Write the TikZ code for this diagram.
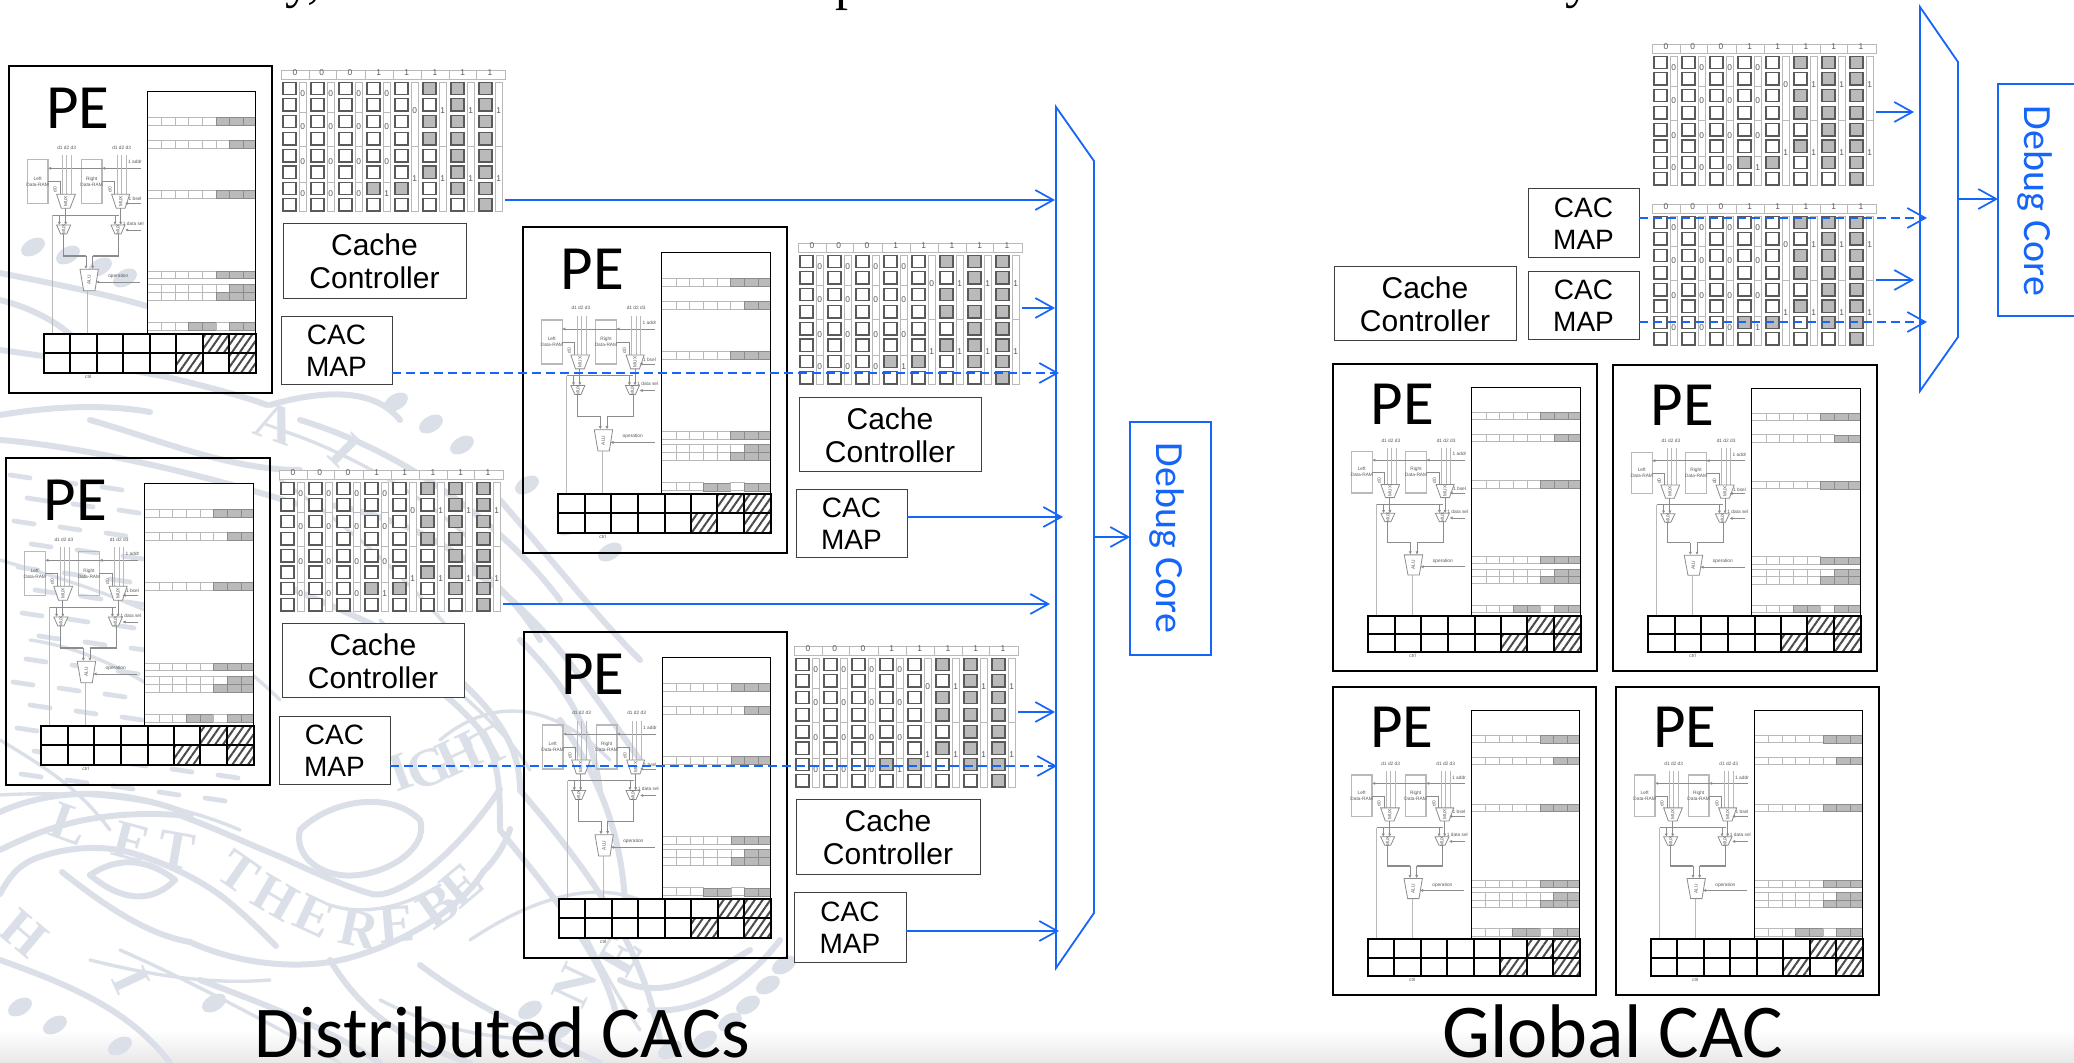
\documentclass[tikz,border=0pt]{standalone}
\usepackage{fontspec}
\setmainfont{Liberation Sans}
\newfontfamily\cali{Carlito}
\newfontfamily\tms{Liberation Serif}
\usetikzlibrary{arrows.meta,patterns.meta,calc}
\definecolor{blu}{RGB}{21,101,249}
\definecolor{wmc}{RGB}{219,224,232}
\definecolor{lgl}{RGB}{185,185,185}
\definecolor{dgl}{RGB}{90,90,90}
\definecolor{grf}{RGB}{186,186,186}
\newcommand{\tn}{\fontsize{2.4}{3}\selectfont}
\newcommand{\arrdg}{\fontsize{4.2}{5}\selectfont}
\tikzset{
  x=0.5pt,y=-0.5pt,
  frame/.style={draw=black,line width=1.25pt,fill=none,inner sep=0pt,outer sep=0pt},
  lblbox/.style={draw=black!75,line width=0.5pt,fill=white,inner sep=0pt,outer sep=0pt,align=center,font=\fontsize{15}{16.5}\selectfont},
  cacbox/.style={lblbox,font=\fontsize{14}{16}\selectfont},
  hold/.style={inner sep=0pt,outer sep=0pt},
  dbgbox/.style={draw=blu,line width=0.75pt,fill=white,inner sep=0pt,outer sep=0pt},
  dbgtxt/.style={text=blu,rotate=-90,font=\cali\fontsize{20}{22}\selectfont,inner sep=0pt},
  bus/.style={draw=blu,line width=0.9pt,line join=miter},
  conn/.style={draw=blu,line width=0.85pt,-{Straight Barb[length=9pt,width=10pt,line width=0.85pt]}},
  connd/.style={conn,dash pattern=on 4.5pt off 2.5pt},
  pelbl/.style={font=\cali\fontsize{31.5}{32}\selectfont,inner sep=0pt},
  ttl/.style={font=\cali\fontsize{36.5}{37}\selectfont,inner sep=0pt,anchor=base},
  cut/.style={font=\tms\fontsize{26}{26}\selectfont,inner sep=0pt,anchor=base},
  wm/.style={draw=wmc,line width=3pt,line cap=round},
  wmt/.style={draw=wmc,line width=1.7pt,line cap=round},
  wml/.style={text=wmc,font=\tms\bfseries\fontsize{27}{27}\selectfont,inner sep=0pt},
  wire/.style={draw=black!45,line width=0.4pt},
  lwire/.style={draw=lgl,line width=0.5pt},
  tiparrow/.style={wire,-{Latex[length=1.6pt,width=1.6pt]}},
  tlbl/.style={font=\tn,text=black!65,inner sep=0pt},
  rowc/.style={draw=lgl,line width=0.4pt,fill=white},
  rowg/.style={draw=black!45,line width=0.3pt,fill=grf},
  tabc/.style={draw=black,line width=1pt},
  sq/.style={draw=dgl,line width=0.55pt,fill=white},
  sqg/.style={draw=dgl,line width=0.55pt,fill=grf},
  thin/.style={draw=lgl,line width=0.4pt,fill=white},
  adg/.style={font=\arrdg,text=black!65,inner sep=0pt},
  hatched/.style={pattern={Lines[angle=55,distance=3.2pt,line width=1pt]},pattern color=black!70},
  pearch/.pic={
    \draw[draw=black,line width=0.45pt,fill=white] (442,124) rectangle (767,970);
    \foreach \ya/\yb/\gs in {202/226/648,272/295/689,421/445/648,663/686/648,703/727/689,727/750/648}{
      \foreach \xa/\xb in {442/484,484/525,525/566,566/607,607/648,648/689,689/729,729/767}{
        \pgfmathparse{\xa>=\gs?1:0}
        \ifnum\pgfmathresult=1
          \draw[rowg] (\xa,\ya) rectangle (\xb,\yb);
        \else
          \draw[rowc] (\xa,\ya) rectangle (\xb,\yb);
        \fi
      }
    }
    \foreach \xa/\xb/\c in {442/484/rowc,484/525/rowc,525/566/rowc,566/607/rowg,607/648/rowg,648/689/rowc,689/729/rowg,729/767/rowg}{
      \draw[\c] (\xa,818) rectangle (\xb,842);
    }
    \draw[draw=black,line width=0.45pt] (442,124) rectangle (767,970);
    \draw[lwire,line width=0.6pt] (82,460) -- (82,328) -- (144,328) -- (144,460) -- cycle;
    \draw[lwire,line width=0.6pt] (244,460) -- (244,328) -- (306,328) -- (306,460) -- cycle;
    \node[tlbl,align=center] (lr) at (113,394) {Left\\Data-RAM};
    \node[tlbl,align=center] (rr) at (275,394) {Right\\Data-RAM};
    \draw[tiparrow] (422,355) -- (144,355);
    \draw[tiparrow] (422,355) -- (306,355);
    \node[tlbl] (lb1) at (405,336) {1 addr};
    \foreach \x in {188,200,215,352,365,378}{\draw[lwire,line width=0.35pt] (\x,315) -- (\x,433);}
    \node[tlbl] (d1) at (200,292) {d1 d2 d3};
    \node[tlbl] (d2) at (365,292) {d1 d2 d3};
    \draw[wire] (144,395) -- (180,395) -- (180,433);
    \draw[wire] (306,395) -- (344,395) -- (344,433);
    \node[tlbl,rotate=90] (d0a) at (165,420) {d0};
    \node[tlbl,rotate=90] (d0b) at (330,420) {d0};
    \draw[wire,fill=white] (170,433) -- (226,433) -- (210,475) -- (184,475) -- cycle;
    \draw[wire,fill=white] (335,433) -- (389,433) -- (375,475) -- (349,475) -- cycle;
    \node[tlbl,rotate=90] (m1) at (197,454) {MUX};
    \node[tlbl,rotate=90] (m2) at (362,454) {MUX};
    \draw[tiparrow] (422,460) -- (375,460);
    \node[tlbl] (lb2) at (405,447) {1 bsel};
    \draw[wire,line width=0.6pt] (158,496) -- (357,496);
    \draw[lwire] (158,496) -- (158,852);
    \draw[wire] (197,475) -- (197,496);
    \draw[wire] (362,475) -- (362,496);
    \draw[tiparrow] (178,496) -- (178,525);
    \draw[tiparrow] (197,496) -- (197,525);
    \draw[tiparrow] (345,496) -- (345,525);
    \draw[tiparrow] (362,496) -- (362,525);
    \draw[wire,fill=white] (170,525) -- (212,525) -- (200,552) -- (182,552) -- cycle;
    \draw[wire,fill=white] (333,525) -- (375,525) -- (363,552) -- (345,552) -- cycle;
    \node[tlbl,rotate=90] (m3) at (191,539) {MUX};
    \node[tlbl,rotate=90] (m4) at (354,539) {MUX};
    \draw[tiparrow] (422,540) -- (375,540);
    \node[tlbl] (lb3) at (400,520) {1 data sel};
    \draw[wire,line width=0.55pt] (190,552) -- (190,618) -- (258,618);
    \draw[wire,line width=0.55pt] (356,552) -- (356,618) -- (278,618);
    \draw[tiparrow] (258,618) -- (258,657);
    \draw[tiparrow] (278,618) -- (278,657);
    \draw[wire,fill=white] (240,658) -- (295,658) -- (285,722) -- (251,722) -- cycle;
    \node[tlbl,rotate=90] (alu) at (267,690) {ALU};
    \draw[lwire] (264,722) -- (264,852);
    \draw[tiparrow] (420,696) -- (288,696);
    \node[tlbl] (lb4) at (355,678) {operation};
    \fill[white] (131,852) rectangle (767,968);
    \foreach \xa/\xb/\ya/\yb in {608/688/852/910,688/767/852/910,529/608/910/968,688/767/910/968}{
      \fill[hatched] (\xa,\ya) rectangle (\xb,\yb);
    }
    \draw[tabc] (131,852) rectangle (767,968);
    \draw[tabc] (131,910) -- (767,910);
    \foreach \x in {211,290,370,450,529,608,688}{\draw[tabc] (\x,852) -- (\x,968);}
    \node[tlbl] (ctl) at (265,979) {ctrl};
    \node[pelbl] (pet) at (234,176) {PE};
  },
  cachearr/.pic={
    \draw[rowc] (0,0) rectangle (672,27);
    \foreach \x in {85,167,253,337,421,505,587}{\draw[lgl,line width=0.4pt] (\x,0) -- (\x,27);}
    \foreach \x/\d in {42/0,122/0,207/0,293/1,377/1,462/1,545/1,627/1}{\node[adg] (h\x) at (\x,9) {\d};}
    \foreach \c in {0,...,7}{
      \foreach \y in {37,86,136,188,239,288,337,386}{
        \draw[sq] ({6+84*\c},\y) rectangle ({45+84*\c},{\y+37});
      }
    }
    \foreach \c/\y in {3/337,4/337,5/37,5/136,5/188,5/288,6/37,6/86,6/136,6/188,6/239,6/288,6/337,7/37,7/86,7/136,7/188,7/239,7/288,7/337,7/386}{
      \draw[sqg] ({6+84*\c},\y) rectangle ({45+84*\c},{\y+37});
    }
    \foreach \c in {0,...,3}{
      \foreach \ya/\yb in {37/127,127/229,229/337,337/423}{
        \draw[thin] ({55+84*\c},\ya) rectangle ({75+84*\c},\yb);
      }
    }
    \foreach \c in {4,...,7}{
      \foreach \ya/\yb in {37/229,229/423}{
        \draw[thin] ({55+84*\c},\ya) rectangle ({75+84*\c},\yb);
      }
    }
    \foreach \c/\y/\d in {0/72/0,0/170/0,0/275/0,0/370/0,1/72/0,1/170/0,1/275/0,1/370/0,2/72/0,2/170/0,2/275/0,2/370/0,3/72/0,3/170/0,3/275/0,3/370/1,4/123/0,4/325/1,5/123/1,5/325/1,6/123/1,6/325/1,7/123/1,7/325/1}{
      \node[adg] at ({65+84*\c},\y) {\d};
    }
  }
}
\newcommand{\bx}[7]{%
  \pgfmathsetmacro\mycx{(#3+#5)/2}\pgfmathsetmacro\mycy{(#4+#6)/2}%
  \pgfmathsetmacro\myw{(#5-#3)*0.5}\pgfmathsetmacro\myh{(#6-#4)*0.5}%
  \node[#2,minimum width=\myw pt,minimum height=\myh pt] (#1) at (\mycx,\mycy) {#7};}
\newcommand{\pe}[5]{%
  \bx{#1}{frame}{#2}{#3}{#4}{#5}{}%
  \pgfmathsetmacro\sx{(#4-#2)/263/3}\pgfmathsetmacro\sy{(#5-#3)/327/3}%
  \pgfmathsetmacro\ox{#2-27*\sx}\pgfmathsetmacro\oy{#3-48*\sy}%
  \pic[shift={(\ox,\oy)},xscale=\sx,yscale=\sy] (#1in) {pearch};}
\newcommand{\arr}[3]{%
  \bx{#1}{hold}{#2}{#3}{#2+224}{#3+141}{}%
  \pic[shift={(#2,#3)},xscale=0.3333,yscale=0.3333] (#1in) {cachearr};}
\begin{document}
\begin{tikzpicture}
\useasboundingbox (0,0) rectangle (2074,1063);
\clip (0,0) rectangle (2074,1063);
\fill[white] (0,0) rectangle (2074,1063);
\fill[top color=white,bottom color=black!9] (0,1030) rectangle (2074,1063);
% ---- watermark: thick strokes
\foreach \a/\b/\c/\d/\e/\f/\g/\h in {
 % upper left streaks
 0/415/60/405/110/405/150/412,
 0/440/70/445/190/470/300/505,
 90/420/160/440/230/470/300/470,
 0/273/60/285/110/295/150/307,
 0/350/60/358/120/368/167/377,
 167/377/200/385/240/395/267/405,
 0/300/40/310/70/330/85/350,
 % upper right arc of seal
 300/420/400/450/500/520/560/600,
 330/505/420/520/500/570/540/640,
 270/405/340/385/380/395/400/420,
 % upper ribbon edges / banner
 179/815/220/830/250/845/276/855,
 276/855/310/870/340/885/372/894,
 372/894/400/900/460/850/500/789,
 62/872/110/910/150/935/190/942,
 190/942/240/965/300/970/345/959,
 345/959/400/945/460/910/483/872,
 483/872/495/860/505/845/510/829,
 % left loop
 0/894/10/875/20/865/34/859,
 34/859/70/845/110/845/138/855,
 138/855/170/865/200/880/224/898,
 224/898/245/915/260/930/276/946,
 0/812/60/785/130/790/191/815,
 0/850/50/825/100/810/179/815,
 90/875/120/855/150/860/175/880,
 175/880/150/905/120/900/90/875,
 % mid loop round array C / cache C
 295/590/340/610/420/640/470/690,
 290/650/360/640/430/670/480/730,
 470/690/500/720/520/750/520/790,
 480/730/500/760/500/790/500/830,
 % oval
 300/830/330/800/390/790/420/820,
 420/820/430/850/380/880/340/875,
 340/875/310/870/295/850/300/830,
 % right big curves
 500/830/540/880/600/950/615/1010,
 520/790/570/850/640/930/660/1040,
 330/960/360/1010/400/1040/470/1063,
 420/965/480/1010/530/1030/600/1063,
 200/980/280/1010/330/1030/380/1063,
 0/960/70/985/130/1010/170/1063,
 % strokes behind PE B/D and to the right
 470/570/540/610/590/690/640/760,
 520/640/560/680/590/720/600/790,
 500/500/560/570/600/620/640/660,
 620/980/660/1000/700/980/750/950,
 650/1010/700/1015/750/980/780/940,
 560/720/600/780/620/830/625/900}{
  \draw[wm] (\a,\b) .. controls (\c,\d) and (\e,\f) .. (\g,\h);
}
% ---- watermark: thin strokes
\foreach \a/\b/\c/\d/\e/\f/\g/\h in {
 0/560/100/590/200/620/280/700,
 30/640/100/650/170/690/250/760,
 280/480/340/520/400/570/450/630,
 120/950/200/985/300/1040/340/1063,
 0/740/50/770/80/790/110/830,
 440/740/500/690/560/710/610/760,
 470/940/530/900/590/880/640/900,
 380/620/440/680/500/720/530/770,
 0/795/90/790/170/800/240/830,
 330/905/360/915/400/910/440/885,
 90/960/150/975/210/985/270/980,
 280/430/330/445/420/490/470/540,
 570/900/590/950/620/1000/640/1030,
 380/1000/440/1030/490/1040/560/1040}{
  \draw[wmt] (\a,\b) .. controls (\c,\d) and (\e,\f) .. (\g,\h);
}
% feather dashes on the left
\foreach \i in {0,...,13}{
  \foreach \j in {0,...,4}{
    \pgfmathsetmacro\dx{10+46*\j+mod(\i*17,30)}
    \pgfmathsetmacro\dy{475+23*\i+6*\j}
    \draw[wmc,line width=2.4pt,line cap=round] (\dx,\dy) -- ++(20,3);
  }
}
\foreach \x/\y in {396/402,431/424,462/445,527/485,569/526,610/552,20/1007,55/1025,120/1046,214/1003,33/247,68/255,100/267,125/278,784/965,768/985,748/1005,730/1022,705/1040,670/1050,530/1010,560/1030}{
  \fill[wmc,rotate around={30:(\x,\y)}] (\x,\y) ellipse (13 and 8);
}
\foreach \x/\y/\r/\t in {276/423/-20/A,345/450/-45/I,24/933/-40/H,131/981/-65/I,
  69/824/-20/L,131/842/-15/E,176/850/-10/T,238/872/-35/T,276/898/-30/H,314/916/-25/E,359/929/-12/R,397/924/5/E,438/907/35/B,462/885/40/E,
  400/772/20/I,428/768/22/G,459/755/25/H,490/746/28/T,
  575/985/65/N,620/955/60/E}{
  \node[wml,rotate=\r] at (\x,\y) {\t};
}
% ---- clipped text at top edge
\node[cut] (tc1) at (303,-2) {y,};
\node[cut] (tc2) at (848,0) {p};
\node[cut] (tc3) at (1578,-2) {y};
% ---- distributed side
\pe{peA}{9}{66}{272}{393}
\pe{peB}{523}{227}{787}{553}
\pe{peC}{6}{458}{270}{785}
\pe{peD}{524}{632}{787}{958}
\arr{arA}{281}{70}
\arr{arB}{798}{243}
\arr{arC}{279}{470}
\arr{arD}{794}{646}
\bx{ccA}{lblbox}{283}{224}{466}{299}{Cache\\Controller}
\bx{cmA}{cacbox}{281}{317}{392}{385}{CAC\\MAP}
\bx{ccB}{lblbox}{799}{398}{981}{472}{Cache\\Controller}
\bx{cmB}{cacbox}{796}{490}{907}{558}{CAC\\MAP}
\bx{ccC}{lblbox}{282}{624}{464}{698}{Cache\\Controller}
\bx{cmC}{cacbox}{279}{717}{390}{785}{CAC\\MAP}
\bx{ccD}{lblbox}{796}{800}{980}{875}{Cache\\Controller}
\bx{cmD}{cacbox}{794}{893}{906}{962}{CAC\\MAP}
\draw[bus] (1094,161) -- (1094,913) -- (1056,968) -- (1056,107) -- cycle;
\draw[draw=blu,line width=1.25pt] (1056,107) -- (1056,968);
\bx{dbL}{dbgbox}{1130}{422}{1211}{655}{}
\node[dbgtxt] (dbLt) at (1167,538) {Debug Core};
\coordinate (t1) at (1055,200);
\coordinate (t2) at (1055,308);
\coordinate (t3) at (1059,373);
\coordinate (t4) at (1063,517);
\coordinate (t5) at (1050,604);
\coordinate (t6) at (1055,712);
\coordinate (t7) at (1057,766);
\coordinate (t8) at (1059,931);
\coordinate (tout) at (1094,537);
\draw[conn] (arA.east |- t1) -- (t1);
\draw[conn] (arB.east |- t2) -- (t2);
\draw[connd] (cmA.east |- t3) -- (t3);
\draw[conn] (cmB.east |- t4) -- (t4);
\draw[conn] (arC.east |- t5) -- (t5);
\draw[conn] (arD.east |- t6) -- (t6);
\draw[connd] (cmC.east |- t7) -- (t7);
\draw[conn] (cmD.east |- t8) -- (t8);
\draw[conn] (tout) -- (dbL.west |- tout);
% ---- global side
\pe{peE}{1333}{364}{1597}{671}
\pe{peF}{1613}{365}{1877}{671}
\pe{peG}{1333}{687}{1596}{995}
\pe{peH}{1616}{687}{1879}{995}
\arr{arE}{1652}{44}
\arr{arF}{1652}{204}
\bx{ccE}{lblbox}{1334}{267}{1516}{341}{Cache\\Controller}
\bx{cmE}{cacbox}{1528}{189}{1639}{258}{CAC\\MAP}
\bx{cmF}{cacbox}{1528}{272}{1639}{340}{CAC\\MAP}
\draw[bus] (1958,62) -- (1958,337) -- (1920,391) -- (1920,7) -- cycle;
\draw[draw=blu,line width=1.25pt] (1920,7) -- (1920,391);
\bx{dbR}{dbgbox}{1998}{84}{2079}{316}{}
\node[dbgtxt] (dbRt) at (2035,201) {Debug Core};
\coordinate (g1) at (1914,112);
\coordinate (g2) at (1927,218);
\coordinate (g3) at (1914,280);
\coordinate (g4) at (1927,322);
\coordinate (gout) at (1958,199);
\draw[conn] (arE.east |- g1) -- (g1);
\draw[connd] (cmE.east |- g2) -- (g2);
\draw[conn] (arF.east |- g3) -- (g3);
\draw[connd] (cmF.east |- g4) -- (g4);
\draw[conn] (gout) -- (dbR.west |- gout);
% ---- titles
\node[ttl] (tl) at (502,1057) {Distributed CACs};
\node[ttl,font=\cali\fontsize{38}{39}\selectfont] (tr) at (1613,1057) {Global CAC};
\end{tikzpicture}
\end{document}
